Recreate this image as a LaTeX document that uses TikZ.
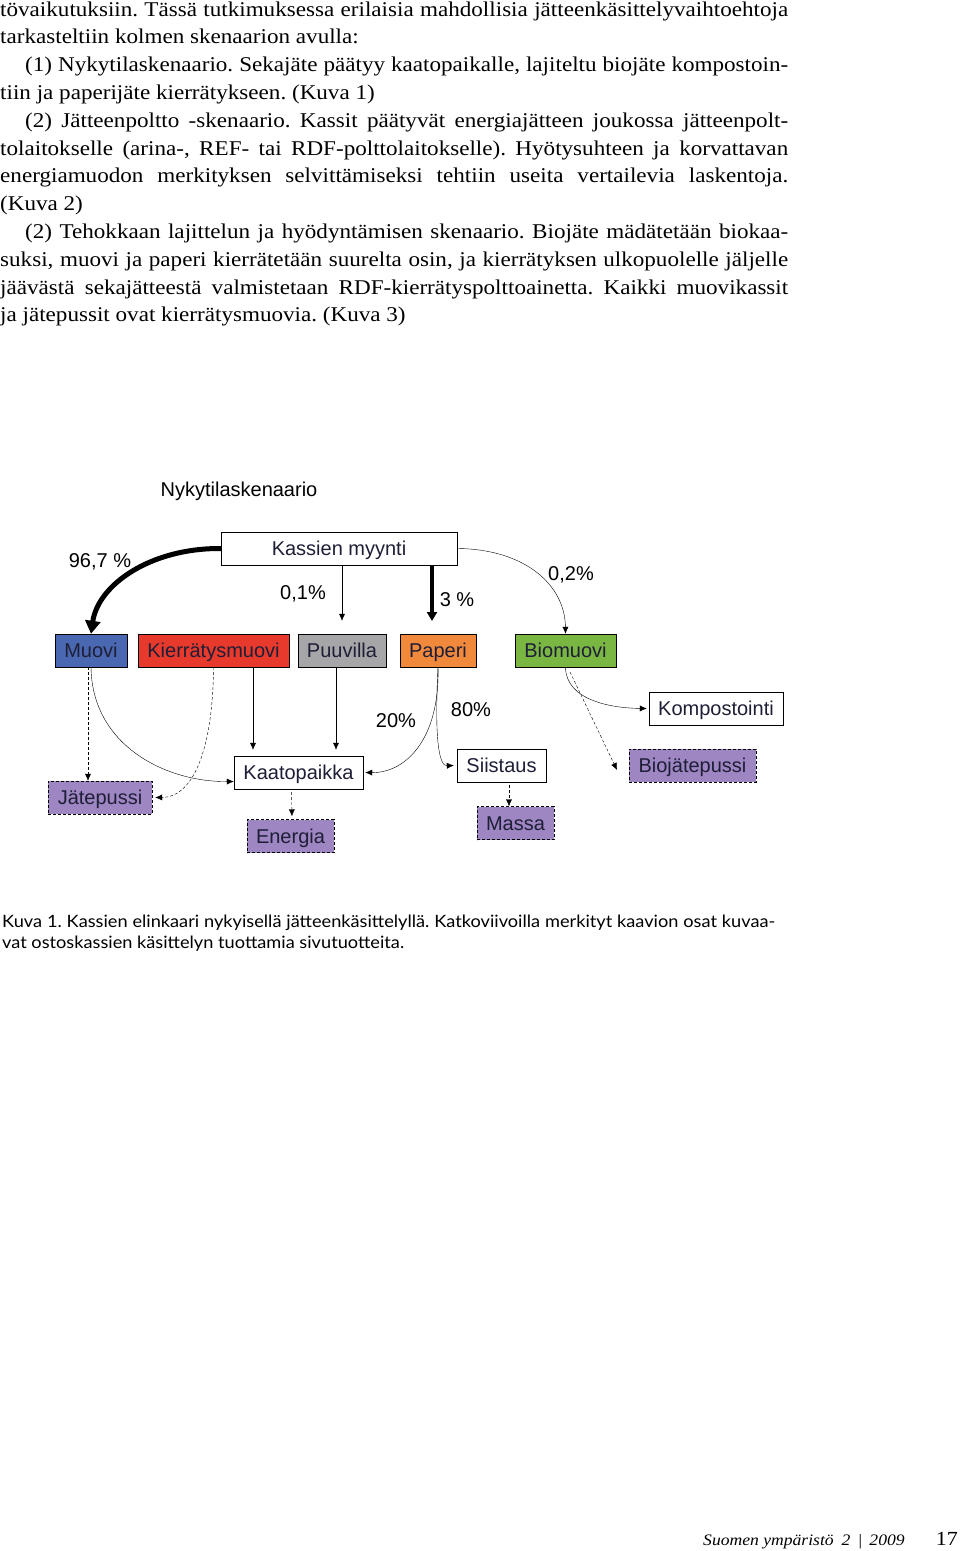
\documentclass[tikz,border=0pt]{standalone}
\usepackage{fontspec}
\setmainfont{Liberation Serif}[FakeStretch=1.1]
\newfontfamily\diafont{Liberation Sans}
\newfontfamily\capfont{Lato}[FakeStretch=1.07]
\usetikzlibrary{arrows.meta}
\frenchspacing
\definecolor{muovicol}{RGB}{74,104,178}
\definecolor{kierrcol}{RGB}{232,58,44}
\definecolor{puucol}{RGB}{166,166,168}
\definecolor{papcol}{RGB}{240,137,60}
\definecolor{biocol}{RGB}{122,182,66}
\definecolor{sivucol}{RGB}{158,134,194}
\definecolor{boxtext}{RGB}{30,30,55}
\newcommand{\rivi}[3]{\node[anchor=base west,inner sep=0pt,font=\fontsize{21}{26}\selectfont] (#1) at (#2) {#3};}
\newcommand{\tasarivi}[4]{\node[anchor=base west,inner sep=0pt,font=\fontsize{21}{26}\selectfont] (#1) at (#2) {\makebox[#3][s]{#4}};}
\tikzset{
  laatikko/.style={draw, thin, minimum height=33pt, inner sep=0pt, text height=14pt, text depth=0pt, text=boxtext, font=\diafont\fontsize{20}{24}\selectfont},
  sivu/.style={laatikko, fill=sivucol, dash pattern=on 3pt off 2pt},
  nuoli/.style={-{Latex[length=7pt,width=6pt]}, thin},
  katko/.style={nuoli, dash pattern=on 3pt off 2pt},
  osuus/.style={inner sep=0pt, font=\diafont\fontsize{20}{24}\selectfont},
}
\begin{document}
\begin{tikzpicture}[x=1pt,y=-1pt]
        \useasboundingbox[fill=white] (0,0) rectangle (960,1551);
        %body text
        \tasarivi{r1}{0,16}{788pt}{tövaikutuksiin. Tässä tutkimuksessa erilaisia mahdollisia jätteenkäsittelyvaihtoehtoja}
        \rivi{r2}{0,43.8}{tarkasteltiin kolmen skenaarion avulla:}
        \tasarivi{r3}{25,71.6}{763pt}{(1) Nykytilaskenaario. Sekajäte päätyy kaatopaikalle, lajiteltu biojäte kompostoin-}
        \rivi{r4}{0,99.4}{tiin ja paperijäte kierrätykseen. (Kuva 1)}
        \tasarivi{r5}{25,127.2}{763pt}{(2) Jätteenpoltto -skenaario. Kassit päätyvät energiajätteen joukossa jätteenpolt-}
        \tasarivi{r6}{0,155}{788pt}{tolaitokselle (arina-, REF- tai RDF-polttolaitokselle). Hyötysuhteen ja korvattavan}
        \tasarivi{r7}{0,182.8}{788pt}{energiamuodon merkityksen selvittämiseksi tehtiin useita vertailevia laskentoja.}
        \rivi{r8}{0,210.6}{(Kuva 2)}
        \tasarivi{r9}{25,238.4}{763pt}{(2) Tehokkaan lajittelun ja hyödyntämisen skenaario. Biojäte mädätetään biokaa-}
        \tasarivi{r10}{0,266.2}{788pt}{suksi, muovi ja paperi kierrätetään suurelta osin, ja kierrätyksen ulkopuolelle jäljelle}
        \tasarivi{r11}{0,294}{788pt}{jäävästä sekajätteestä valmistetaan RDF-kierrätyspolttoainetta. Kaikki muovikassit}
        \rivi{r12}{0,321.8}{ja jätepussit ovat kierrätysmuovia. (Kuva 3)}
        %title
        \node[osuus] (otsikko) at (239,491) {Nykytilaskenaario};
        %nodes
        \node[laatikko, minimum width=236pt] (myynti) at (339,548.5) {Kassien myynti};
        \node[laatikko, fill=muovicol, minimum width=72pt] (muovi) at (91,650.5) {Muovi};
        \node[laatikko, fill=kierrcol, minimum width=151pt] (kierr) at (213.5,650.5) {Kierrätysmuovi};
        \node[laatikko, fill=puucol, minimum width=88pt] (puuvilla) at (342,650.5) {Puuvilla};
        \node[laatikko, fill=papcol, minimum width=76pt] (paperi) at (438,650.5) {Paperi};
        \node[laatikko, fill=biocol, minimum width=101pt] (biomuovi) at (565.5,650.5) {Biomuovi};
        \node[laatikko, minimum width=129pt] (kaatopaikka) at (298.5,772.5) {Kaatopaikka};
        \node[laatikko, minimum width=89pt] (siistaus) at (501.5,765.5) {Siistaus};
        \node[laatikko, minimum width=134pt] (kompost) at (716,708.5) {Kompostointi};
        \node[sivu, minimum width=104pt] (jatepussi) at (100,797.5) {Jätepussi};
        \node[sivu, minimum width=87pt] (energia) at (290.5,836) {Energia};
        \node[sivu, minimum width=77pt] (massa) at (515.5,823) {Massa};
        \node[sivu, minimum width=127pt] (biopussi) at (692.5,765.5) {Biojätepussi};
        %edges from the sale
        \draw[line width=5pt, -{Triangle[length=13pt,width=15pt]}] (myynti.west) .. controls (150,548) and (98,585) .. (muovi.north);
        \draw[nuoli, shorten >=13pt] (myynti.south -| puuvilla.north) -- (puuvilla.north);
        \draw[line width=3.5pt, -{Triangle[length=9pt,width=10pt]}, shorten >=13pt] (myynti.south -| 432,0) -- (432,634);
        \draw[nuoli] (myynti.east) .. controls (525,549) and (565,585) .. (biomuovi.north);
        %edges from the products
        \draw[katko] ([xshift=-3pt]muovi.south) -- ([xshift=-3pt]muovi.south |- jatepussi.north);
        \draw[nuoli] (muovi.south) .. controls (92,745) and (165,782) .. ([yshift=-9pt]kaatopaikka.west);
        \draw[katko] (kierr.south) .. controls (213,745) and (195,797) .. ([xshift=3pt]jatepussi.east);
        \draw[nuoli, shorten >=6pt] (253,667) -- (kaatopaikka.north -| 253,0);
        \draw[nuoli, shorten >=6pt] (336,667) -- (kaatopaikka.north -| 336,0);
        \draw[nuoli] (paperi.south) .. controls (440,740) and (405,773) .. ([xshift=2pt]kaatopaikka.east);
        \draw[nuoli] (paperi.south) .. controls (434,745) and (440,766) .. ([xshift=-3pt]siistaus.west);
        \draw[nuoli] (biomuovi.south) .. controls (566,700) and (610,708) .. ([xshift=-2pt]kompost.west);
        \coordinate (biokarki) at (617,770);
        \draw[katko] (570,672) -- (biokarki);
        \draw[katko, shorten <=3pt, shorten >=3pt] ([xshift=-7pt]kaatopaikka.south) -- ([xshift=1.5pt]energia.north);
        \draw[katko, shorten <=3pt] ([xshift=7.5pt]siistaus.south) -- ([xshift=-6.5pt]massa.north);
        %percentages
        \node[osuus] (p967) at (100,562) {96,7 \%};
        \node[osuus] (p01) at (303,594) {0,1\%};
        \node[osuus] (p3) at (457,600) {3 \%};
        \node[osuus] (p02) at (571,575) {0,2\%};
        \node[osuus] (p20) at (396,721) {20\%};
        \node[osuus] (p80) at (471,710) {80\%};
        %caption
        \node[anchor=base west, inner sep=0pt, font=\capfont\fontsize{17}{20}\selectfont] (kuva1) at (2,927) {\makebox[773pt][s]{Kuva 1. Kassien elinkaari nykyisellä jätteenkäsittelyllä. Katkoviivoilla merkityt kaavion osat kuvaa-}};
        \node[anchor=base west, inner sep=0pt, font=\capfont\fontsize{17}{20}\selectfont] (kuva2) at (2,948) {vat ostoskassien käsittelyn tuottamia sivutuotteita.};
        %footer
        \node[anchor=base west, inner sep=0pt, font=\itshape\fontsize{16}{20}\selectfont] (sarja) at (703,1545) {Suomen ympäristö\enspace 2 \,|\, 2009};
        \node[anchor=base east, inner sep=0pt, font=\fontsize{20}{24}\selectfont] (sivunro) at (958,1545) {17};
\end{tikzpicture}
\end{document}
